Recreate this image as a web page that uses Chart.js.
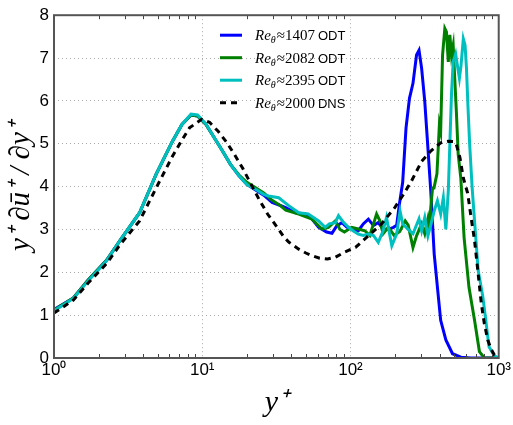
<!DOCTYPE html>
<html>
<head>
<meta charset="utf-8">
<script src="https://cdn.jsdelivr.net/npm/chart.js@4.4.1/dist/chart.umd.min.js"></script>
<style>
  body { margin: 0; background: #fff; }
  canvas { display: block; }
</style>
</head>
<body>
<canvas id="profileChart" width="513" height="425"></canvas>
<script>
// series labels
const reValues = ['1407', '2082', '2395', '2000'];
const sources = ['ODT', 'ODT', 'ODT', 'DNS'];
const xTickValues = [1, 10, 100, 1000];
const xTickLabels = ['10\u2070', '10\u00b9', '10\u00b2', '10\u00b3'];

// Re_theta ~ 1407 ODT
const odt1407X = [1, 1.35, 1.7, 2.26, 2.8, 3.78, 4.89, 6.3, 7.3, 8.4, 9.3, 10.6, 12, 13.7, 15.5, 17.7, 20, 22.9, 26, 29.6,
  33, 36.6, 42.5, 49.6, 55, 61, 69, 75, 81, 87.6, 94.6, 102, 113, 122, 132, 143, 154, 166, 180, 195,
  205, 214, 225, 237, 250, 264, 279, 290, 302, 317, 333, 348, 367, 386, 406, 440, 488, 556, 650, 800, 1000];
const odt1407Y = [1.13, 1.4, 1.82, 2.28, 2.75, 3.39, 4.29, 5.06, 5.45, 5.67, 5.65, 5.45, 5.15, 4.83, 4.52, 4.25, 4.05, 3.92, 3.8, 3.63,
  3.57, 3.51, 3.39, 3.36, 3.24, 3.05, 2.94, 2.91, 3.09, 3.16, 3.05, 3.01, 2.97, 3.13, 3.24, 3.09, 3.16, 3.01, 3.0, 3.05,
  3.1, 3.6, 4.1, 5.37, 6.06, 6.41, 7.07, 7.18, 6.76, 5.99, 4.9, 3.9, 2.43, 1.65, 0.88, 0.42, 0.1, 0.02, 0, 0, 0];

// Re_theta ~ 2082 ODT
const odt2082X = [1, 1.35, 1.7, 2.26, 2.8, 3.78, 4.89, 6.3, 7.3, 8.4, 9.3, 10.6, 12, 13.7, 15.5, 17.7, 20, 22.9, 26, 29.6,
  33, 36.6, 44.8, 55, 64.2, 71, 79, 85, 91, 102, 113, 125, 135, 143, 150, 158, 166, 180, 197, 215,
  234, 245, 264, 279, 302, 317, 333, 340, 348, 358, 366, 383, 398, 406, 418, 433, 444, 457, 468, 480,
  493, 505, 518, 533, 555, 584, 630, 687, 741, 800, 1000];
const odt2082Y = [1.12, 1.4, 1.82, 2.28, 2.75, 3.39, 4.29, 5.06, 5.45, 5.67, 5.65, 5.45, 5.15, 4.83, 4.52, 4.27, 4.1, 3.97, 3.85, 3.68,
  3.58, 3.45, 3.36, 3.24, 3.01, 3.05, 3.2, 3.0, 2.94, 3.05, 3.01, 2.97, 2.86, 3.13, 3.36, 3.2, 2.9, 3.05, 2.86, 2.95,
  3.2, 3.1, 2.58, 2.85, 3.13, 2.9, 3.25, 3.0, 3.51, 3.97, 3.97, 4.3, 5.45, 5.3, 7.07, 7.69, 7.61, 6.91, 7.54, 7.07,
  7.3, 6.53, 5.75, 4.75, 4.2, 2.81, 1.65, 0.88, 0.15, 0, 0];

// Re_theta ~ 2395 ODT
const odt2395X = [1, 1.35, 1.7, 2.26, 2.8, 3.78, 4.89, 6.3, 7.3, 8.4, 9.3, 10.6, 12, 13.7, 15.5, 17.7, 20, 22.9, 26, 28,
  32.8, 38.5, 44.8, 51.8, 61, 67.5, 72, 79, 83, 90, 97, 104, 113, 122, 132, 143, 154, 166, 175, 190,
  205, 216, 225, 245, 264, 290, 302, 317, 333, 348, 367, 386, 406, 423, 440, 457, 468, 480, 493, 512,
  530, 543, 556, 577, 593, 606, 621, 637, 662, 687, 727, 780, 818, 860, 935, 1000];
const odt2395Y = [1.1, 1.39, 1.8, 2.27, 2.75, 3.39, 4.29, 5.06, 5.45, 5.69, 5.67, 5.46, 5.15, 4.83, 4.52, 4.25, 4.05, 3.94, 3.82, 3.78,
  3.74, 3.55, 3.39, 3.36, 3.2, 3.05, 3.13, 3.16, 3.32, 3.16, 3.05, 2.97, 2.89, 2.86, 2.89, 2.86, 2.7, 2.97, 3.28, 2.62,
  2.9, 3.43, 3.13, 3.0, 2.9, 3.25, 2.97, 3.28, 2.85, 3.1, 3.43, 3.67, 3.36, 3.74, 3.0, 3.9, 4.98, 6.14, 6.91, 7.1,
  6.76, 6.53, 6.8, 7.45, 7.3, 6.76, 5.83, 4.98, 3.97, 3.2, 2.04, 1.45, 0.88, 0.26, 0.05, 0];

// Re_theta ~ 2000 DNS
const dns2000X = [1, 1.35, 1.7, 2.26, 2.8, 3.78, 4.89, 6.3, 7.2, 8.2, 9.9, 11.2, 12.8, 14.5, 16.5, 18.8, 21.3, 24.2, 27.6, 31,
  35.8, 38.5, 44.8, 50, 55, 62, 70, 79, 91, 108, 132, 162, 199, 228, 258, 302, 348, 406, 457, 503,
  518, 548, 577, 617, 650, 687, 725, 763, 800, 844, 890, 935, 1000];
const dns2000Y = [1.05, 1.35, 1.75, 2.2, 2.65, 3.2, 3.97, 4.71, 5.05, 5.37, 5.57, 5.5, 5.29, 5.05, 4.75, 4.42, 4.06, 3.7, 3.36, 3.12,
  2.81, 2.7, 2.54, 2.45, 2.39, 2.33, 2.31, 2.35, 2.47, 2.58, 2.85, 3.13, 3.51, 3.82, 4.13, 4.59, 4.83, 5.02, 5.06, 5.05,
  4.98, 4.67, 4.2, 3.85, 3.3, 2.74, 2.0, 1.27, 0.8, 0.42, 0.2, 0.07, 0.02];

function toPoints(xs, ys) {
    return xs.map((x, i) => ({ x: x, y: ys[i] }));
}

function makeSeries(i, xs, ys, color, dash, order) {
    return {
        label: 'Re\u03b8\u2248' + reValues[i] + ' ' + sources[i],
        data: toPoints(xs, ys),
        borderColor: color,
        borderWidth: 3,
        borderDash: dash,
        pointRadius: 0,
        tension: 0,
        fill: false,
        order: order
    };
}

// frame, minor ticks and the tex-ish legend
const framePlugin = {
    id: 'frame',
    afterDatasetsDraw(chart) {
        const ctx = chart.ctx;
        const a = chart.chartArea;
        const xs = chart.scales.x;
        ctx.save();
        ctx.strokeStyle = '#444';
        ctx.lineWidth = 1;
        for (let d = 1; d < 1000; d *= 10) {
            for (let k = 2; k <= 9; k++) {
                const px = Math.round(xs.getPixelForValue(d * k)) + 0.5;
                ctx.beginPath();
                ctx.moveTo(px, a.bottom); ctx.lineTo(px, a.bottom - 4);
                ctx.moveTo(px, a.top); ctx.lineTo(px, a.top + 4);
                ctx.stroke();
            }
        }
        ctx.strokeStyle = '#555';
        ctx.lineWidth = 2;
        ctx.strokeRect(a.left, a.top, a.right - a.left, a.bottom - a.top);
        ctx.restore();

        // legend
        chart.data.datasets.forEach((ds, i) => {
            const lx = a.left + 166;
            const ly = a.top + 20 + i * 22.5;
            ctx.save();
            ctx.strokeStyle = ds.borderColor;
            ctx.lineWidth = 3;
            ctx.setLineDash(ds.borderDash || []);
            ctx.beginPath();
            ctx.moveTo(lx, ly); ctx.lineTo(lx + 22, ly);
            ctx.stroke();
            ctx.setLineDash([]);
            ctx.fillStyle = '#000';
            ctx.textBaseline = 'alphabetic';
            let tx = lx + 35;
            const base = ly + 5;
            ctx.font = 'italic 15px "Liberation Serif"';
            ctx.fillText('Re', tx, base);
            tx += ctx.measureText('Re').width;
            ctx.font = 'italic 10px "Liberation Serif"';
            ctx.fillText('\u03b8', tx, base + 3);
            tx += ctx.measureText('\u03b8').width + 1;
            ctx.font = '15px "Liberation Serif"';
            const num = '\u2248' + reValues[i];
            ctx.fillText(num, tx, base);
            tx += ctx.measureText(num).width + 3;
            ctx.font = '13px "Liberation Sans"';
            ctx.fillText(sources[i], tx, base);
            ctx.restore();
        });
    }
};

const ctx = document.getElementById('profileChart').getContext('2d');
new Chart(ctx, {
    type: 'line',
    data: {
        datasets: [
            makeSeries(0, odt1407X, odt1407Y, '#0000ff', [], 4),
            makeSeries(1, odt2082X, odt2082Y, '#008000', [], 3),
            makeSeries(2, odt2395X, odt2395Y, '#00bfbf', [], 2),
            makeSeries(3, dns2000X, dns2000Y, '#000000', [6, 5], 1)
        ]
    },
    options: {
        responsive: false,
        animation: false,
        layout: { padding: { top: 13, right: 12, left: 0, bottom: 0 } },
        plugins: {
            legend: { display: false },
            tooltip: { enabled: false }
        },
        scales: {
            x: {
                type: 'logarithmic',
                min: 1,
                max: 1000,
                afterBuildTicks: function(scale) {
                    scale.ticks = xTickValues.map(v => ({ value: v }));
                },
                afterFit: function(scale) { scale.height = 67; },
                grid: { color: '#aaa', lineWidth: 1, drawTicks: false },
                border: { display: false, dash: [1, 3] },
                ticks: {
                    color: '#000',
                    padding: 2,
                    maxRotation: 0,
                    autoSkip: false,
                    font: { family: '"Liberation Sans"', size: 17 },
                    callback: function(value) {
                        const i = xTickValues.indexOf(value);
                        return i >= 0 ? xTickLabels[i] : '';
                    }
                },
                title: {
                    display: true,
                    text: 'y\u207a',
                    color: '#000',
                    font: { family: '"Liberation Serif"', style: 'italic', size: 30 },
                    padding: { top: 0, bottom: 4 }
                }
            },
            y: {
                min: 0,
                max: 8,
                afterFit: function(scale) { scale.width = 54; },
                grid: { color: '#aaa', lineWidth: 1, drawTicks: false },
                border: { display: false, dash: [1, 3] },
                ticks: {
                    stepSize: 1,
                    color: '#000',
                    padding: 5,
                    font: { family: '"Liberation Sans"', size: 17 }
                },
                title: {
                    display: true,
                    text: 'y\u207a \u2202\u016b\u207a / \u2202y\u207a',
                    color: '#000',
                    font: { family: '"Liberation Serif"', style: 'italic', size: 29 },
                    padding: { top: 4, bottom: 0 }
                }
            }
        }
    },
    plugins: [framePlugin]
});
</script>
</body>
</html>
